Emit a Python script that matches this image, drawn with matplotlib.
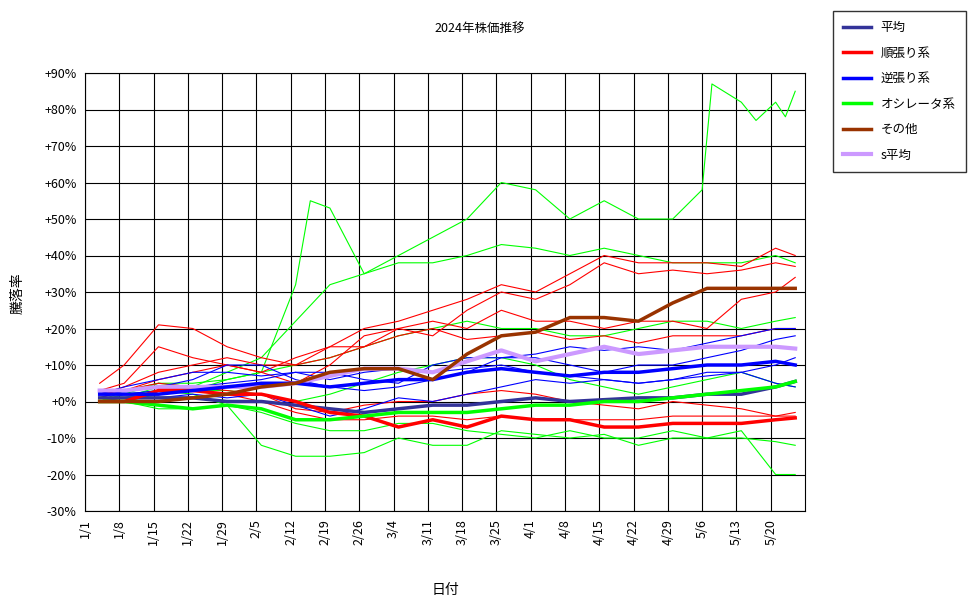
import matplotlib
matplotlib.use("Agg")
import matplotlib.pyplot as plt
import numpy as np

plt.rcParams['font.family'] = ['Noto Sans CJK JP', 'DejaVu Sans']

days = [3,8,15,22,29,36,43,50,57,64,71,78,85,92,99,106,113,120,127,134,141,145]
tick_days = list(range(0,141,7))
tick_labels = ["1/1","1/8","1/15","1/22","1/29","2/5","2/12","2/19","2/26","3/4","3/11","3/18","3/25","4/1","4/8","4/15","4/22","4/29","5/6","5/13","5/20"]

heikin   = [1,1,1,1,0,0,-1,-2,-3,-2,-1,-1,0,1,0,0.5,1,1,2,2,4,5.5]
junbari  = [0,0,3,3,2,2,0,-3,-4,-7,-5,-7,-4,-5,-5,-7,-7,-6,-6,-6,-5,-4.5]
gyakubari= [2,2,2,3,4,5,5,4,5,6,6,8,9,8,7,8,8,9,10,10,11,10]
osc      = [0,0,-1,-2,-1,-2,-5,-5,-4,-3,-3,-3,-2,-1,-1,0,0,1,2,3,4,5.5]
sonota   = [0,0,0,1,2,4,5,8,9,9,6,13,18,19,23,23,22,27,31,31,31,31]
s_heikin = [3,3,4,4,4,4,5,7,9,9,8,11,14,11,13,15,13,14,15,15,15,14.5]

g1_days = [3,8,15,22,29,36,43,46,50,57,64,71,78,85,92,99,106,113,120,126,128,134,137,141,143,145]
g1_vals = [0,3,5,5,6,8,32,55,53,35,40,45,50,60,58,50,55,50,50,58,87,82,77,82,78,85]

green_thin = [
 [0,2,5,4,8,12,22,32,35,38,38,40,43,42,40,42,40,38,38,38,40,38],
 [0,0,-2,-2,-1,-12,-15,-15,-14,-10,-12,-12,-8,-9,-10,-9,-12,-10,-10,-8,-20,-20],
 [0,2,3,2,-1,-3,-6,-8,-8,-6,-6,-8,-9,-10,-8,-10,-10,-8,-10,-10,-11,-12],
 [0,1,4,3,6,8,10,12,15,18,20,22,20,20,18,18,20,22,22,20,22,23],
 [0,0,2,3,3,2,0,2,5,8,10,12,12,10,6,4,2,4,6,8,5,4],
]
red_thin = [
 [5,10,21,20,15,12,10,15,20,22,25,28,32,30,35,40,38,38,38,37,42,40],
 [3,5,15,12,10,8,5,10,18,20,18,25,30,28,32,38,35,36,35,36,38,37],
 [2,4,8,10,12,10,10,12,15,20,22,20,25,22,22,20,22,22,20,28,30,34],
 [0,1,2,3,2,0,-3,-5,-5,-4,-4,-5,-4,-5,-5,-5,-5,-4,-4,-4,-4,-4],
 [1,3,5,4,3,2,-2,-3,-1,0,0,2,3,2,0,-1,-2,0,-1,-2,-4,-3],
 [2,3,6,8,10,8,12,15,15,18,20,17,18,19,17,18,16,18,18,18,20,20],
]
blue_thin = [
 [2,4,6,8,8,7,8,8,6,5,10,12,12,13,15,14,15,14,16,18,20,20],
 [1,3,4,6,10,10,6,4,3,4,6,8,12,12,10,8,10,10,12,14,17,18],
 [0,1,1,2,1,2,-1,-4,-2,1,0,2,4,6,5,6,5,6,8,8,10,12],
 [2,2,3,4,5,6,8,6,8,9,8,9,10,8,7,6,5,6,7,8,5,4],
]

fig = plt.figure(figsize=(9.7, 6.04), dpi=100)
ax = fig.add_axes([85/970, 1-511/604, 720/970, 438/604])

ax.plot(g1_days, g1_vals, color='#00ff00', lw=0.8)
for s in green_thin:
    ax.plot(days, s, color='#00ff00', lw=0.8)
for s in red_thin:
    ax.plot(days, s, color='#ff0000', lw=0.8)
for s in blue_thin:
    ax.plot(days, s, color='#0000ff', lw=0.8)

ax.plot(days, s_heikin, color='#cc99ff', lw=3, label='s平均', zorder=5)
ax.plot(days, heikin, color='#333399', lw=2.5, label='平均', zorder=6)
ax.plot(days, junbari, color='#ff0000', lw=2.5, label='順張り系', zorder=6)
ax.plot(days, gyakubari, color='#0000ff', lw=2.5, label='逆張り系', zorder=6)
ax.plot(days, osc, color='#00ff00', lw=2.5, label='オシレータ系', zorder=6)
ax.plot(days, sonota, color='#993300', lw=2.5, label='その他', zorder=6)

ax.set_xlim(0, 147)
ax.set_ylim(-30, 90)
ax.set_yticks(range(-30, 91, 10))
ax.set_yticklabels([("+%d%%" % v) if v >= 0 else ("%d%%" % v) for v in range(-30, 91, 10)], fontsize=9)
ax.set_xticks(tick_days)
ax.set_xticklabels(tick_labels, rotation=90, fontsize=9)
ax.grid(True, color='black', lw=0.8)
ax.set_axisbelow(True)
for sp in ax.spines.values():
    sp.set_color('black')
ax.tick_params(length=0, pad=6)

fig.text(480/970, 1-28/604, '2024年株価推移', ha='center', va='center', fontsize=9)
fig.text(445/970, 1-590/604, '日付', ha='center', va='center', fontsize=10)
fig.text(18/970, 1-293/604, '騰落率', ha='center', va='center', fontsize=10, rotation=90)

h, l = ax.get_legend_handles_labels()
order = ['平均','順張り系','逆張り系','オシレータ系','その他','s平均']
hs = [h[l.index(o)] for o in order]
leg = fig.legend(hs, order, loc='upper left', bbox_to_anchor=(827/970, 1-5/604),
                 fontsize=9, frameon=True, fancybox=False, edgecolor='black',
                 handlelength=2.2, labelspacing=1.0, borderpad=0.8)
leg.get_frame().set_linewidth(1)

fig.savefig('out.png', dpi=100, facecolor='white')
